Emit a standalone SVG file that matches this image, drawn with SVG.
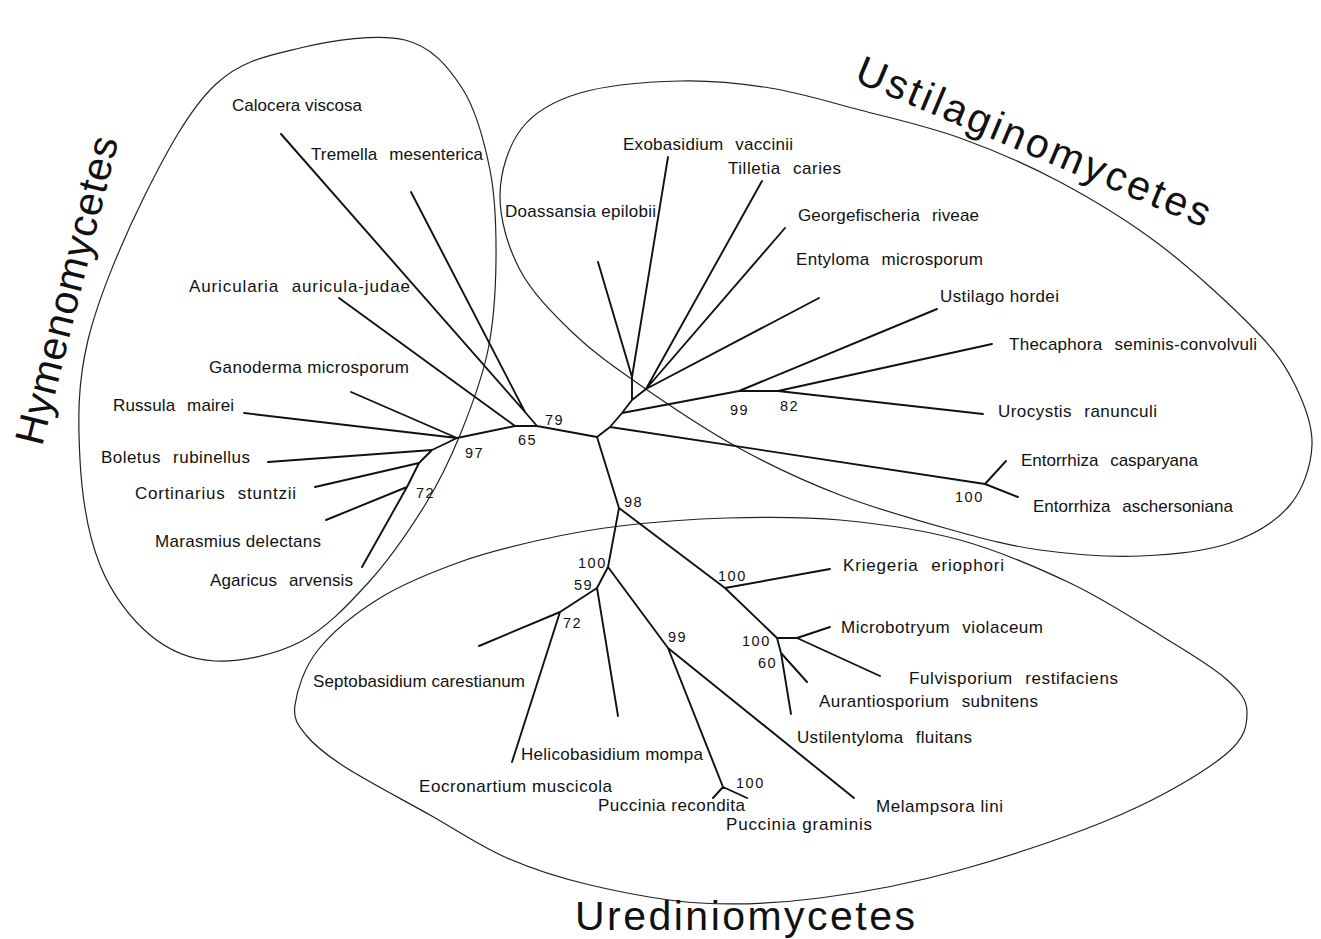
<svg xmlns="http://www.w3.org/2000/svg" width="1321" height="939" viewBox="0 0 1321 939">
<style>
.br{stroke:#111;stroke-width:1.9;fill:none;stroke-linecap:round;stroke-linejoin:round}
.el{stroke:#222;stroke-width:1.2;fill:none}
.lab{font-family:"Liberation Sans",Arial,sans-serif;font-size:17px;fill:#111}
.w{word-spacing:7px}
.bs{font-family:"Liberation Sans",Arial,sans-serif;font-size:14.5px;fill:#111;letter-spacing:1.5px}
.ti{font-family:"Liberation Sans",Arial,sans-serif;font-size:41px;fill:#111}
</style>
<rect width="1321" height="939" fill="#fff"/>

<g id="clade-hymenomycetes">
<path class="el" d="M405,40 C432,46.7 447.8,66.3 462,88 C476.2,109.7 484.3,141.3 490,170 C495.7,198.7 496.3,230 496,260 C495.7,290 494,320.8 488,350 C482,379.2 470.5,409.2 460,435 C449.5,460.8 440.3,480.3 425,505 C409.7,529.7 388.8,560.2 368,583 C347.2,605.8 325.5,629 300,642 C274.5,655 240,662.2 215,661 C190,659.8 169.2,651 150,635 C130.8,619 111.7,594.2 100,565 C88.3,535.8 82,497.5 80,460 C78,422.5 77.2,384.2 88,340 C98.8,295.8 123.8,237.5 145,195 C166.2,152.5 189.2,109.5 215,85 C240.8,60.5 268.3,55.5 300,48 C331.7,40.5 378,33.3 405,40 Z"/>
<text class="ti" x="42" y="447" transform="rotate(-76 42 447)" textLength="316" lengthAdjust="spacing">Hymenomycetes</text>
</g>
<g id="clade-ustilaginomycetes">
<path class="el" d="M500,195 C500.3,171.3 508.7,145 522,128 C535.3,111 553.7,100.8 580,93 C606.3,85.2 648.3,81.8 680,81 C711.7,80.2 740,83.2 770,88 C800,92.8 828.3,101.7 860,110 C891.7,118.3 926.7,126 960,138 C993.3,150 1026.7,164.2 1060,182 C1093.3,199.8 1127.5,220.3 1160,245 C1192.5,269.7 1232.5,306.7 1255,330 C1277.5,353.3 1285.5,365.8 1295,385 C1304.5,404.2 1312.8,425 1312,445 C1311.2,465 1303.7,488.7 1290,505 C1276.3,521.3 1255,534.5 1230,543 C1205,551.5 1171.7,554.8 1140,556 C1108.3,557.2 1071.3,554.3 1040,550 C1008.7,545.7 985.3,539.2 952,530 C918.7,520.8 875.8,508.8 840,495 C804.2,481.2 770.3,465.3 737,447 C703.7,428.7 667.3,404 640,385 C612.7,366 593,352.2 573,333 C553,313.8 532.2,293 520,270 C507.8,247 499.7,218.7 500,195 Z"/>
<text class="ti" x="853" y="81" transform="rotate(22.7 853 81)" textLength="380" lengthAdjust="spacing">Ustilaginomycetes</text>
</g>
<g id="clade-urediniomycetes">
<path class="el" d="M295,705 C297,690.8 303.8,667.8 318,650 C332.2,632.2 356.3,612.7 380,598 C403.7,583.3 433.3,571.7 460,562 C486.7,552.3 513.3,546 540,540 C566.7,534 588.8,529.7 620,526 C651.2,522.3 690.3,519 727,518 C763.7,517 801.2,516.3 840,520 C878.8,523.7 921.7,529.5 960,540 C998.3,550.5 1036.7,567.2 1070,583 C1103.3,598.8 1134.2,619.2 1160,635 C1185.8,650.8 1210.5,665.2 1225,678 C1239.5,690.8 1247,699.2 1247,712 C1247,724.8 1246.2,737.8 1225,755 C1203.8,772.2 1164.2,795.8 1120,815 C1075.8,834.2 1010,856.2 960,870 C910,883.8 863.3,892.5 820,898 C776.7,903.5 738.3,905.2 700,903 C661.7,900.8 622.2,892.5 590,885 C557.8,877.5 533.7,869.7 507,858 C480.3,846.3 457,830.2 430,815 C403,799.8 365.7,780.3 345,767 C324.3,753.7 314.3,745.3 306,735 C297.7,724.7 293,719.2 295,705 Z"/>
<text class="ti" x="575" y="930" textLength="340" lengthAdjust="spacing">Urediniomycetes</text>
</g>

<g id="connectors">
<path class="br" d="M597,437 L537,426 L515,426 M537,426 L525,412 L281,134 M525,412 L411,192 M515,426 L339,298 M515,426 L457,438 L351,392 M457,438 L244,413 M457,438 L432,450 L268,462 M432,450 L419,463 L315,487 M419,463 L407,487 L326,520 M407,487 L362,567"/>
<path class="br" d="M597,437 L610,427 L985,484 L1006,461 M985,484 L1018,497 M610,427 L622,413 L739,391 L937,309 M739,391 L778,391 L992,344 M778,391 L983,414 M622,413 L632,400 L632,377 L598,262 M632,377 L668,157 M632,400 L646,389 L762,181 M646,389 L785,228 M646,389 L819,298"/>
<path class="br" d="M597,437 L619,508 L608,567 L597,588 L560,612 L479,646 M560,612 L512,762 M597,588 L618,716 M608,567 L668,648 L723,787 L713,798 M723,787 L747,798 M668,648 L854,798 M619,508 L725,588 L830,569 M725,588 L777,638 L797,638 L830,627 M797,638 L880,676 M777,638 L781,653 L807,682 M781,653 L791,714"/>
</g>

<g id="bootstrap">
<text class="bs" x="545" y="425">79</text>
<text class="bs" x="518" y="445">65</text>
<text class="bs" x="465" y="458">97</text>
<text class="bs" x="416" y="498">72</text>
<text class="bs" x="730" y="415">99</text>
<text class="bs" x="780" y="411">82</text>
<text class="bs" x="955" y="502">100</text>
<text class="bs" x="624" y="507">98</text>
<text class="bs" x="578" y="568">100</text>
<text class="bs" x="574" y="590">59</text>
<text class="bs" x="563" y="628">72</text>
<text class="bs" x="718" y="581">100</text>
<text class="bs" x="668" y="642">99</text>
<text class="bs" x="742" y="646">100</text>
<text class="bs" x="758" y="668">60</text>
<text class="bs" x="736" y="788">100</text>
</g>

<g id="n-calocera"><text class="lab" x="232" y="111" textLength="130" lengthAdjust="spacing">Calocera viscosa</text></g>
<g id="n-tremella"><text class="lab w" x="311" y="160" textLength="172" lengthAdjust="spacing">Tremella mesenterica</text></g>
<g id="n-auricularia"><text class="lab w" x="189" y="292" textLength="221" lengthAdjust="spacing">Auricularia auricula-judae</text></g>
<g id="n-ganoderma"><text class="lab" x="209" y="373" textLength="200" lengthAdjust="spacing">Ganoderma microsporum</text></g>
<g id="n-russula"><text class="lab w" x="113" y="411" textLength="121" lengthAdjust="spacing">Russula mairei</text></g>
<g id="n-boletus"><text class="lab w" x="101" y="463" textLength="149" lengthAdjust="spacing">Boletus rubinellus</text></g>
<g id="n-cortinarius"><text class="lab w" x="135" y="499" textLength="161" lengthAdjust="spacing">Cortinarius stuntzii</text></g>
<g id="n-marasmius"><text class="lab" x="155" y="547" textLength="166" lengthAdjust="spacing">Marasmius delectans</text></g>
<g id="n-agaricus"><text class="lab w" x="210" y="586" textLength="143" lengthAdjust="spacing">Agaricus arvensis</text></g>

<g id="n-exobasidium"><text class="lab w" x="623" y="150" textLength="170" lengthAdjust="spacing">Exobasidium vaccinii</text></g>
<g id="n-tilletia"><text class="lab w" x="728" y="174" textLength="113" lengthAdjust="spacing">Tilletia caries</text></g>
<g id="n-doassansia"><text class="lab" x="505" y="217" textLength="151" lengthAdjust="spacing">Doassansia epilobii</text></g>
<g id="n-georgefischeria"><text class="lab w" x="798" y="221" textLength="181" lengthAdjust="spacing">Georgefischeria riveae</text></g>
<g id="n-entyloma"><text class="lab w" x="796" y="265" textLength="187" lengthAdjust="spacing">Entyloma microsporum</text></g>
<g id="n-ustilago"><text class="lab" x="940" y="302" textLength="119" lengthAdjust="spacing">Ustilago hordei</text></g>
<g id="n-thecaphora"><text class="lab w" x="1009" y="350" textLength="248" lengthAdjust="spacing">Thecaphora seminis-convolvuli</text></g>
<g id="n-urocystis"><text class="lab w" x="998" y="417" textLength="159" lengthAdjust="spacing">Urocystis ranunculi</text></g>
<g id="n-entorrhiza-c"><text class="lab w" x="1021" y="466" textLength="177" lengthAdjust="spacing">Entorrhiza casparyana</text></g>
<g id="n-entorrhiza-a"><text class="lab w" x="1033" y="512" textLength="200" lengthAdjust="spacing">Entorrhiza aschersoniana</text></g>

<g id="n-kriegeria"><text class="lab w" x="843" y="571" textLength="161" lengthAdjust="spacing">Kriegeria eriophori</text></g>
<g id="n-microbotryum"><text class="lab w" x="841" y="633" textLength="202" lengthAdjust="spacing">Microbotryum violaceum</text></g>
<g id="n-fulvisporium"><text class="lab w" x="909" y="684" textLength="209" lengthAdjust="spacing">Fulvisporium restifaciens</text></g>
<g id="n-aurantiosporium"><text class="lab w" x="819" y="707" textLength="219" lengthAdjust="spacing">Aurantiosporium subnitens</text></g>
<g id="n-ustilentyloma"><text class="lab w" x="797" y="743" textLength="175" lengthAdjust="spacing">Ustilentyloma fluitans</text></g>
<g id="n-septobasidium"><text class="lab" x="313" y="687" textLength="212" lengthAdjust="spacing">Septobasidium carestianum</text></g>
<g id="n-helicobasidium"><text class="lab" x="521" y="760" textLength="182" lengthAdjust="spacing">Helicobasidium mompa</text></g>
<g id="n-eocronartium"><text class="lab" x="419" y="792" textLength="193" lengthAdjust="spacing">Eocronartium muscicola</text></g>
<g id="n-puccinia-r"><text class="lab" x="598" y="811" textLength="147" lengthAdjust="spacing">Puccinia recondita</text></g>
<g id="n-puccinia-g"><text class="lab" x="726" y="830" textLength="146" lengthAdjust="spacing">Puccinia graminis</text></g>
<g id="n-melampsora"><text class="lab" x="876" y="812" textLength="127" lengthAdjust="spacing">Melampsora lini</text></g>
</svg>
